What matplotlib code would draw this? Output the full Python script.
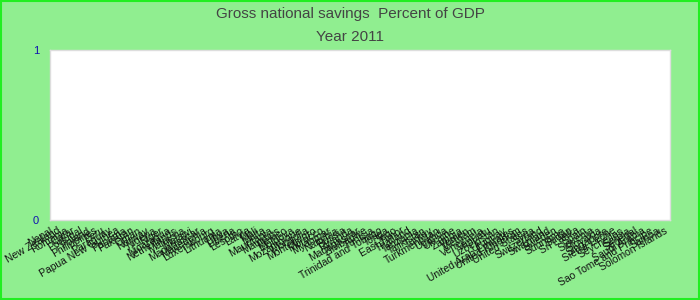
import matplotlib
matplotlib.use("Agg")
import matplotlib.pyplot as plt
from matplotlib.patches import Rectangle

# ---------------------------------------------------------------- dados
countries = [
    "Nepal", "New Zealand", "Romania", "Qatar", "Portugal", "Poland",
    "Philippines", "Peru", "Paraguay", "Papua New Guinea", "Panama",
    "Pakistan", "Oman", "Norway", "Nigeria", "Niger", "Nicaragua",
    "Netherlands", "Malaysia", "Malawi", "Madagascar", "Macedonia",
    "Luxembourg", "Lithuania", "Libya", "Liberia", "Lesotho", "Latvia",
    "Mali", "Malta", "Mauritania", "Mauritius", "Mexico", "Moldova",
    "Mozambique", "Mongolia", "Montenegro", "Morocco", "Myanmar",
    "Namibia", "Russia", "Rwanda", "Madagascar", "Zimbabwe", "Tunisia",
    "Trinidad and Tobago", "Tonga", "Togo", "East Timor", "Thailand",
    "Tanzania", "Tajikistan", "Turkey", "Turkmenistan", "Uganda",
    "Ukraine", "Zambia", "Yemen", "Vietnam", "Venezuela", "Vanuatu",
    "Uzbekistan", "Uruguay", "United Arab Emirates", "United Kingdom",
    "United States", "Syria", "Switzerland", "Swaziland", "Sweden",
    "Suriname", "Sudan", "Sri Lanka", "Spain", "Slovenia", "Slovakia",
    "Singapore", "Sierra Leone", "Seychelles", "Serbia", "Senegal",
    "Saudi Arabia", "Sao Tome and Principe", "Samoa", "Solomon Islands",
]
savings = [0.0] * len(countries)   # nenhuma barra visivel no ano 2011
yticks = [0, 1]

BG = "#90EE90"
FRAME = "#22EE22"
TXT = "#444444"
TICK = "#1010B0"

plt.rcParams["font.family"] = ["Liberation Sans", "DejaVu Sans"]

fig = plt.figure(figsize=(7, 3), dpi=100)
fig.patch.set_facecolor(BG)
ax = fig.add_axes([50 / 700, 80 / 300, 620 / 700, 170 / 300])
ax.set_facecolor("white")

x = list(range(len(countries)))
ax.bar(x, savings, color="#4472C4", width=0.6)
ax.set_xlim(0, len(countries) - 0.2)
ax.set_ylim(0, 1)

ax.set_yticks(yticks)
ax.set_yticklabels([str(v) for v in yticks], color=TICK, fontsize=8)
ax.tick_params(axis="y", length=0, pad=8)
ax.set_xticks(x)
ax.set_xticklabels(countries, rotation=30, ha="right", rotation_mode="anchor",
                   fontsize=7.5, color="#111111")
ax.tick_params(axis="x", length=0, pad=4)
for s in ax.spines.values():
    s.set_color("#DDDDDD")
    s.set_linewidth(1)

fig.text(0.5, 1 - 14 / 300, "Gross national savings  Percent of GDP",
         ha="center", va="center", fontsize=11, color=TXT)
fig.text(0.5, 1 - 37 / 300, "Year 2011", ha="center", va="center",
         fontsize=11, color=TXT)

fig.patches.append(Rectangle((0.001, 0.002), 0.997, 0.995, transform=fig.transFigure,
                             fill=False, edgecolor=FRAME, linewidth=1.5))

fig.savefig("out.png", dpi=100, facecolor=BG)
